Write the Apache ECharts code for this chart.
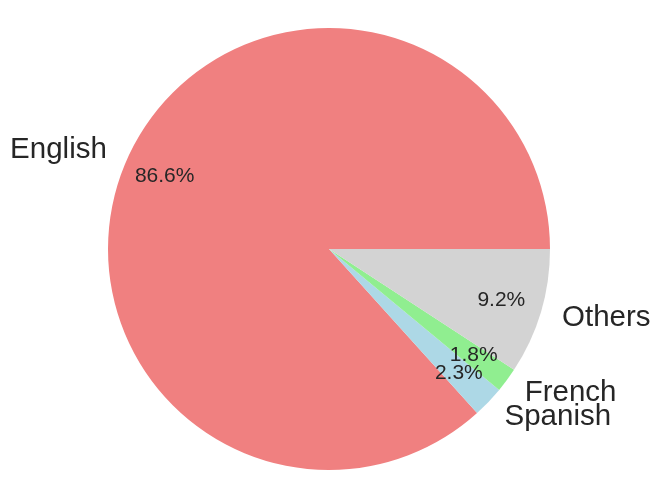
<!DOCTYPE html>
<html>
<head>
<meta charset="utf-8">
<script src="https://cdn.jsdelivr.net/npm/echarts@6/dist/echarts.min.js"></script>
<style>
html,body{margin:0;padding:0;background:#fff;}
#chart{width:661px;height:498px;}
</style>
</head>
<body>
<div id="chart"></div>
<script>
const categories = ['English', 'Spanish', 'French', 'Others'];
const shares = [86.6, 2.3, 1.8, 9.2];
const colors = ['#F08080', '#ADD8E6', '#90EE90', '#D3D3D3'];

const R = 221;
const CENTER = [329, 249];
const FONT = 'Liberation Sans, Arial, Helvetica, sans-serif';
const TEXT = '#262626';

const chart = echarts.init(document.getElementById('chart'), null, {renderer: 'canvas'});

const mainData = categories.map((c, i) => ({
  name: c, value: shares[i], itemStyle: {color: colors[i]}
}));
const pctData = categories.map((c, i) => ({
  name: c, value: shares[i]
}));

chart.setOption({
  animation: false,
  backgroundColor: '#fff',
  series: [
    {
      type: 'pie',
      center: CENTER,
      radius: [0, R],
      startAngle: 0,
      clockwise: false,
      avoidLabelOverlap: false,
      silent: true,
      emphasis: {disabled: true},
      itemStyle: {borderWidth: 0},
      labelLayout: {hideOverlap: false},
      label: {
        show: true,
        position: 'outside',
        formatter: '{b}',
        fontFamily: FONT,
        fontSize: 29.5,
        color: TEXT,
        distanceToLabelLine: 0
      },
      labelLine: {show: false, length: R * 0.1, length2: 0},
      data: mainData
    },
    {
      type: 'pie',
      center: CENTER,
      radius: [R * 0.6, R],
      startAngle: 0,
      clockwise: false,
      avoidLabelOverlap: false,
      silent: true,
      emphasis: {disabled: true},
      itemStyle: {color: 'rgba(0,0,0,0)', borderWidth: 0},
      labelLayout: {hideOverlap: false},
      label: {
        show: true,
        position: 'inside',
        formatter: p => p.value.toFixed(1) + '%',
        fontFamily: FONT,
        fontSize: 21,
        color: TEXT
      },
      labelLine: {show: false},
      data: pctData
    }
  ]
});
</script>
</body>
</html>
